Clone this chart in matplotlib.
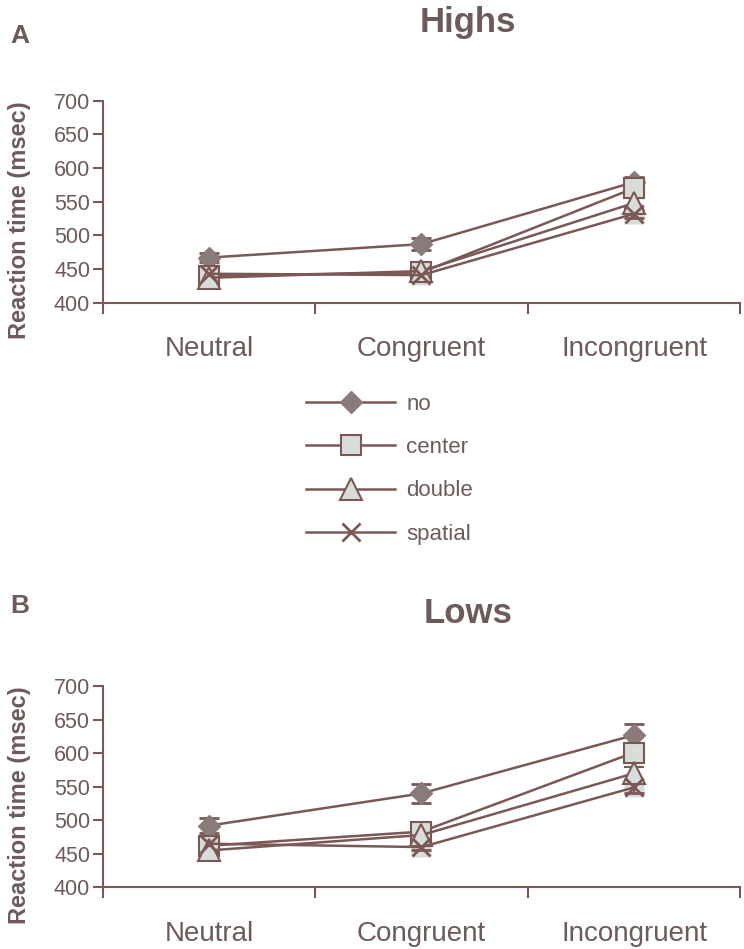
import matplotlib
matplotlib.use("Agg")
import matplotlib.pyplot as plt
import numpy as np

plt.rcParams['font.family'] = ['Liberation Sans', 'DejaVu Sans']

conditions = ['Neutral', 'Congruent', 'Incongruent']
cues = ['no', 'center', 'double', 'spatial']

# Highs (panel A)
highs_no = [467, 487, 579]
highs_center = [440, 445, 570]
highs_double = [437, 447, 548]
highs_spatial = [443, 441, 532]
highs_no_err = [7, 9, 8]
highs_center_err = [5, 5, 10]
highs_double_err = [4, 4, 8]
highs_spatial_err = [4, 4, 6]

# Lows (panel B)
lows_no = [492, 540, 627]
lows_center = [462, 483, 601]
lows_double = [455, 478, 570]
lows_spatial = [465, 460, 549]
lows_no_err = [11, 14, 17]
lows_center_err = [6, 8, 14]
lows_double_err = [6, 6, 10]
lows_spatial_err = [5, 5, 8]

line_col = '#7a5856'
text_col = '#6c5b5a'
light = '#d9ddd9'
narrow = ['Liberation Sans Narrow', 'Liberation Sans']

styles = {
    'no': dict(marker='D', ms=11, mfc='#8a7b7b', mec='#8a7b7b'),
    'center': dict(marker='s', ms=14, mfc=light, mec=line_col, mew=1.5),
    'double': dict(marker='^', ms=16, mfc=light, mec=line_col, mew=1.5),
    'spatial': dict(marker='x', ms=13, mfc=light, mec=line_col, mew=2.0),
}

fig = plt.figure(figsize=(7.44, 9.49), dpi=100)
ax1 = fig.add_axes([0.138, 0.681, 0.857, 0.213])
ax2 = fig.add_axes([0.138, 0.065, 0.857, 0.212])

x = np.arange(len(conditions))


def draw(ax, series, errs, title, letter, title_y, letter_y):
    for cue, vals, err in zip(cues, series, errs):
        st = styles[cue]
        if cue == 'spatial':
            # light square background behind the cross
            ax.plot(x, vals, ls='none', marker='s', ms=15, mfc=light, mec='none', zorder=2)
        ax.errorbar(x, vals, yerr=err, color=line_col, lw=1.8, capsize=7,
                    capthick=2, elinewidth=1.5, label=cue, zorder=3, **st)
    ax.set_xlim(-0.5, 2.5)
    ax.set_ylim(400, 700)
    ax.set_yticks(range(400, 701, 50))
    ax.set_xticks([-0.5, 0.5, 1.5, 2.5])
    ax.set_xticklabels([])
    ax.set_xticks(x, minor=True)
    ax.set_xticklabels(conditions, minor=True, fontsize=20, color=text_col)
    ax.tick_params(axis='x', which='minor', length=0, pad=24)
    ax.tick_params(axis='x', which='major', length=8, width=1.5, color=line_col, direction='out')
    ax.tick_params(axis='y', length=7, width=1.5, color=line_col, labelsize=15.5,
                   labelcolor=text_col, direction='out', pad=2)
    for s in ['top', 'right']:
        ax.spines[s].set_visible(False)
    for s in ['left', 'bottom']:
        ax.spines[s].set_color(line_col)
        ax.spines[s].set_linewidth(1.5)
    ax.set_ylabel('Reaction time (msec)', fontsize=17, fontweight='bold', color=text_col)
    ax.yaxis.set_label_coords(-0.113, 0.41)
    ax.text(0.573, title_y, title, transform=ax.transAxes, ha='center', va='center',
            fontsize=25, fontweight='bold', color=text_col, family=narrow)
    ax.text(-0.145, letter_y, letter, transform=ax.transAxes, ha='left', va='center',
            fontsize=19, fontweight='bold', color=text_col, family=narrow)


draw(ax1, [highs_no, highs_center, highs_double, highs_spatial],
     [highs_no_err, highs_center_err, highs_double_err, highs_spatial_err],
     'Highs', 'A', 1.385, 1.32)
draw(ax2, [lows_no, lows_center, lows_double, lows_spatial],
     [lows_no_err, lows_center_err, lows_double_err, lows_spatial_err],
     'Lows', 'B', 1.36, 1.40)

handles = [plt.Line2D([], [], color=line_col, lw=1.8, **styles[c]) for c in cues]
leg = fig.legend(handles, cues, loc='upper left', bbox_to_anchor=(0.385, 0.606),
                 frameon=False, handlelength=4.0, labelspacing=1.0, fontsize=16,
                 handletextpad=0.5)
for t in leg.get_texts():
    t.set_color(text_col)

fig.savefig('out.png', dpi=100, facecolor='white')
